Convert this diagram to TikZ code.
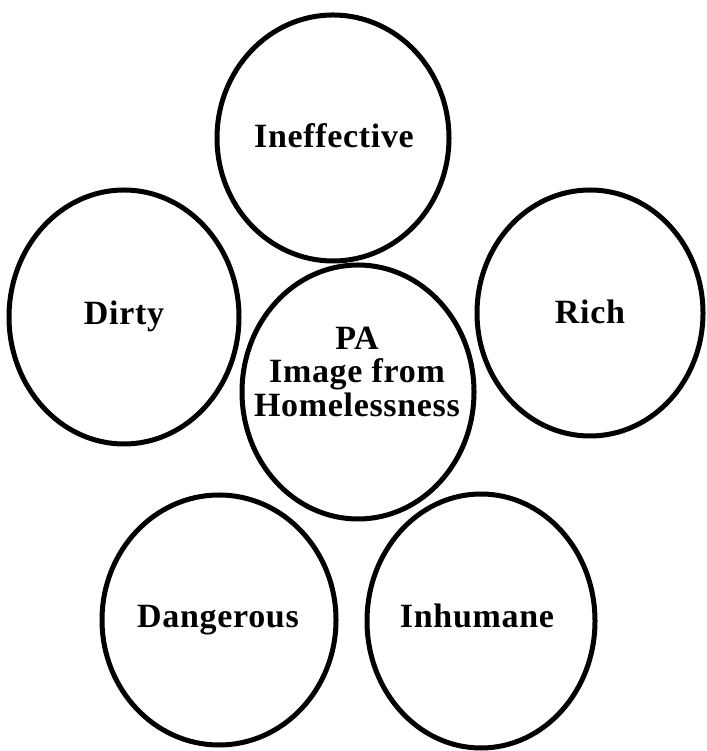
\documentclass[tikz,border=0pt]{standalone}
\usepackage{fontspec}
\setmainfont{Liberation Serif}[LetterSpace=2]
\usetikzlibrary{shapes.geometric}
\begin{document}
\begin{tikzpicture}[x=1pt,y=1pt,
  bubble/.style={draw=black, line width=5pt, ellipse, inner sep=0pt, fill=none},
  word/.style={anchor=base, inner sep=0pt, font=\fontsize{34}{37}\selectfont\bfseries}]
\useasboundingbox (0,0) rectangle (706,751);
% ellipses (y = 751 - image y)
\node[bubble, minimum width=232pt, minimum height=246pt] (ineff) at (333,613) {};
\node[bubble, minimum width=230pt, minimum height=254pt] (dirty) at (124,434) {};
\node[bubble, minimum width=226pt, minimum height=246pt] (rich) at (590,438) {};
\node[bubble, minimum width=232pt, minimum height=254pt] (pa) at (358,359) {};
\node[bubble, minimum width=234pt, minimum height=250pt] (dang) at (219,131) {};
\node[bubble, minimum width=228pt, minimum height=254pt] (inhum) at (481,130) {};
% texts
\node[word] (tineff) at (334,603) {Ineffective};
\node[word] (tdirty) at (124,426) {Dirty};
\node[word] (trich) at (590,427) {Rich};
\node[word] (tpa1) at (357,401) {PA};
\node[word] (tpa2) at (357,368) {Image from};
\node[word] (tpa3) at (357,334) {Homelessness};
\node[word] (tdang) at (218,123) {Dangerous};
\node[word] (tinhum) at (477,123) {Inhumane};
\end{tikzpicture}
\end{document}
